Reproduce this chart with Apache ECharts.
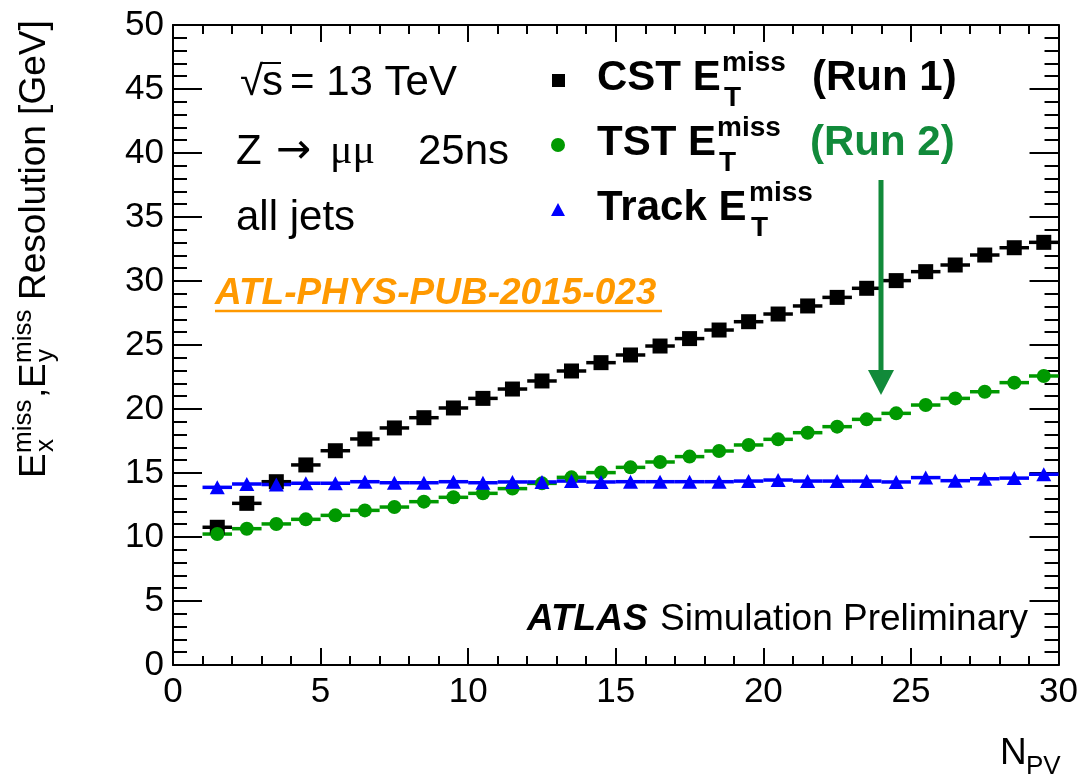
<!DOCTYPE html>
<html>
<head>
<meta charset="utf-8">
<script src="https://cdn.jsdelivr.net/npm/echarts@6/dist/echarts.min.js"></script>
<style>
html,body{margin:0;padding:0;background:#fff;}
#chart{width:1081px;height:775px;}
</style>
</head>
<body>
<div id="chart"></div>
<script>
// ---- data ----
const nPV = [1.5,2.5,3.5,4.5,5.5,6.5,7.5,8.5,9.5,10.5,11.5,12.5,13.5,14.5,15.5,16.5,17.5,18.5,19.5,20.5,21.5,22.5,23.5,24.5,25.5,26.5,27.5,28.5,29.5];
const cstRes = [10.76,12.63,14.32,15.63,16.74,17.66,18.52,19.32,20.08,20.83,21.56,22.19,22.97,23.62,24.22,24.92,25.5,26.17,26.82,27.42,28.05,28.72,29.43,30.03,30.73,31.25,32.03,32.6,33.02];
const tstRes = [10.23,10.65,11.02,11.38,11.69,12.08,12.34,12.76,13.1,13.41,13.78,14.19,14.66,15.03,15.44,15.86,16.28,16.72,17.19,17.63,18.15,18.62,19.19,19.66,20.31,20.83,21.35,22.06,22.58];
const trackRes = [13.88,14.14,14.1,14.2,14.2,14.32,14.24,14.24,14.32,14.24,14.3,14.3,14.37,14.3,14.32,14.32,14.32,14.32,14.37,14.45,14.37,14.37,14.37,14.3,14.64,14.4,14.55,14.6,14.9];
const binHalfWidth = 0.5;
const xTicks = {min:0, max:30, interval:5};
const yTicks = {min:0, max:50, interval:5};

const FONT = '"Liberation Sans", Arial, Helvetica, sans-serif';
const BLACK = '#000000', GREEN = '#009900', BLUE = '#0000ff', DKGREEN = '#118a3a', ORANGE = '#ff9900';

function pairs(ys){ return nPV.map((x,i)=>[x, ys[i]]); }

function errSeries(ys, color){
  return {
    type:'custom', data: pairs(ys), z: 2,
    renderItem: function(params, api){
      const x = api.value(0), y = api.value(1);
      const p1 = api.coord([x - binHalfWidth, y]);
      const p2 = api.coord([x + binHalfWidth, y]);
      return {type:'line', shape:{x1:p1[0], y1:p1[1], x2:p2[0], y2:p2[1]},
              style:{stroke:color, lineWidth:3.5}};
    }
  };
}
function markSeries(ys, symbol, size, color){
  return {type:'scatter', data: pairs(ys), symbol: symbol, symbolSize: size,
          itemStyle:{color: color, opacity:1}, z: 3, silent: true};
}

// text helper: x = left, base = baseline y
function T(x, base, text, fs, opts){
  opts = opts || {};
  const font = (opts.style||'') + ' ' + (opts.weight||'') + ' ' + fs + 'px ' + (opts.family || FONT);
  return {type:'text', x: x, y: base - 0.3465*fs, z: 100,
    style:{text:text, font:font, fill: opts.color || BLACK, align: opts.align || 'left', verticalAlign:'middle',
           textAlign: opts.align || 'left', textVerticalAlign:'middle'}};
}

const graphics = [];
// left annotations
graphics.push(T(240, 98, '\u221A', 42));
graphics.push({type:'line', z:100, shape:{x1:262, y1:63, x2:281, y2:63}, style:{stroke:BLACK, lineWidth:2}});
graphics.push(T(262, 98, 's', 42));
graphics.push(T(290, 98, '= 13 TeV', 42));
graphics.push(T(236, 167, 'Z', 42));
graphics.push(T(276, 167, '\u2192', 42, {family:'"DejaVu Sans", sans-serif'}));
graphics.push(T(330, 167, '\u03BC\u03BC', 42, {family:'"Liberation Serif", "DejaVu Serif", serif'}));
graphics.push(T(418, 167, '25ns', 42));
graphics.push(T(236, 233, 'all jets', 42));
graphics.push(T(215, 307, 'ATL-PHYS-PUB-2015-023', 37, {style:'italic', weight:'bold', color:ORANGE}));
graphics.push({type:'line', z:100, shape:{x1:215, y1:311, x2:662, y2:311}, style:{stroke:ORANGE, lineWidth:2.5}});

// legend
const legRows = [
  {base:93, main:'CST E', supX:722, extra:'(Run 1)', extraX:812, extraColor:BLACK},
  {base:158, main:'TST E', supX:717, extra:'(Run 2)', extraX:810, extraColor:DKGREEN},
  {base:223, main:'Track E', supX:749, extra:null}
];
legRows.forEach(r=>{
  graphics.push(T(597, r.base, r.main, 42, {weight:'bold'}));
  graphics.push(T(r.supX, r.base - 20, 'miss', 28, {weight:'bold'}));
  graphics.push(T(r.supX + 2, r.base + 15, 'T', 28, {weight:'bold'}));
  if (r.extra) graphics.push(T(r.extraX, r.base, r.extra, 42, {weight:'bold', color:r.extraColor}));
});
graphics.push({type:'rect', z:100, shape:{x:552, y:74, width:13, height:13}, style:{fill:BLACK}});
graphics.push({type:'circle', z:100, shape:{cx:558, cy:145, r:7}, style:{fill:GREEN}});
graphics.push({type:'polygon', z:100, shape:{points:[[551,216],[565,216],[558,203]]}, style:{fill:BLUE}});

// arrow
graphics.push({type:'line', z:100, shape:{x1:881, y1:180, x2:881, y2:375}, style:{stroke:DKGREEN, lineWidth:5}});
graphics.push({type:'polygon', z:100, shape:{points:[[868,370],[894,370],[881,395]]}, style:{fill:DKGREEN}});

// ATLAS label
graphics.push(T(527, 633, 'ATLAS', 37, {style:'italic', weight:'bold'}));
graphics.push(T(660, 633, 'Simulation Preliminary', 37));

// x axis title
graphics.push(T(1000, 767, 'N', 37));
graphics.push(T(1026, 776, 'PV', 26));

// y axis title (rotated group)
graphics.push({
  type:'group', x:48, y:478, rotation: Math.PI/2, z:100,
  children:[
    T(0, 0, 'E', 37),
    T(25, -15, 'miss', 26),
    T(26, 7, 'x', 26),
    T(80, 0, ',', 37),
    T(90, 0, 'E', 37),
    T(115, -15, 'miss', 26),
    T(116, 7, 'y', 26),
    T(178, 0, 'Resolution [GeV]', 37)
  ]
});

function xAxisDef(pos, showLabel){
  return {type:'value', position:pos, min:xTicks.min, max:xTicks.max, interval:xTicks.interval,
    axisLine:{show:true, onZero:false, lineStyle:{color:BLACK, width:2}},
    axisTick:{show:true, inside:true, length:17, lineStyle:{color:BLACK, width:2}},
    minorTick:{show:true, splitNumber:5, length:9, lineStyle:{color:BLACK, width:2}},
    splitLine:{show:false}, minorSplitLine:{show:false},
    axisLabel:{show:showLabel, fontFamily:FONT, fontSize:35, color:BLACK, margin:10,
      showMinLabel:true, showMaxLabel:true, hideOverlap:false}
  };
}
function yAxisDef(pos, showLabel){
  return {type:'value', position:pos, min:yTicks.min, max:yTicks.max, interval:yTicks.interval,
    axisLine:{show:true, onZero:false, lineStyle:{color:BLACK, width:2}},
    axisTick:{show:true, inside:true, length:29, lineStyle:{color:BLACK, width:2}},
    minorTick:{show:true, splitNumber:5, length:14, lineStyle:{color:BLACK, width:2}},
    splitLine:{show:false}, minorSplitLine:{show:false},
    axisLabel:{show:showLabel, fontFamily:FONT, fontSize:35, color:BLACK, margin:9,
      showMinLabel:true, showMaxLabel:true, hideOverlap:false}
  };
}

const chart = echarts.init(document.getElementById('chart'), null, {renderer:'canvas'});
chart.setOption({
  animation:false,
  backgroundColor:'#ffffff',
  grid:{left:173, right:20, top:25, bottom:110, containLabel:false},
  xAxis:[xAxisDef('bottom', true), xAxisDef('top', false)],
  yAxis:[yAxisDef('left', true), yAxisDef('right', false)],
  series:[
    errSeries(cstRes, BLACK), markSeries(cstRes, 'rect', 15, BLACK),
    errSeries(tstRes, GREEN), markSeries(tstRes, 'circle', 14, GREEN),
    errSeries(trackRes, BLUE), markSeries(trackRes, 'triangle', [15, 14], BLUE)
  ],
  graphic:{elements: graphics}
});
</script>
</body>
</html>
